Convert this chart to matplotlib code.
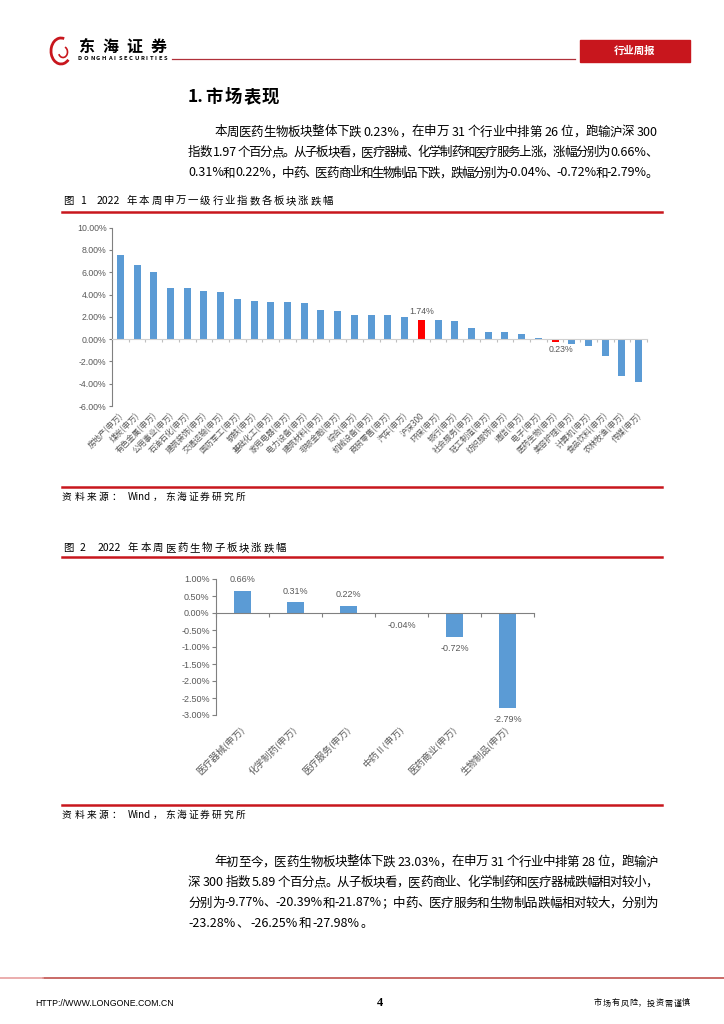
"""
东海证券 行业周报 第4页：市场表现（两张涨跌幅柱状图）
"""

import numpy as np
import matplotlib
matplotlib.use('Agg')
import matplotlib.pyplot as plt
from matplotlib.font_manager import FontProperties
from matplotlib.patches import Rectangle, Arc

CJK = ['Noto Sans CJK SC', 'DejaVu Sans']
LATIN = ['Liberation Sans', 'Noto Sans CJK SC']
plt.rcParams['font.family'] = CJK

# 图1 数据：申万一级行业本周涨跌幅(%)
industries = ['房地产(申万)', '煤炭(申万)', '有色金属(申万)', '公用事业(申万)', '石油石化(申万)',
              '建筑装饰(申万)', '交通运输(申万)', '国防军工(申万)', '钢铁(申万)', '基础化工(申万)',
              '家用电器(申万)', '电力设备(申万)', '建筑材料(申万)', '非银金融(申万)', '综合(申万)',
              '机械设备(申万)', '商贸零售(申万)', '汽车(申万)', '沪深300', '环保(申万)',
              '银行(申万)', '社会服务(申万)', '轻工制造(申万)', '纺织服饰(申万)', '通信(申万)',
              '电子(申万)', '医药生物(申万)', '美容护理(申万)', '计算机(申万)', '食品饮料(申万)',
              '农林牧渔(申万)', '传媒(申万)']
weekly_chg = [7.53, 6.64, 6.00, 4.60, 4.58, 4.30, 4.20, 3.58, 3.40, 3.35,
              3.32, 3.20, 2.60, 2.50, 2.20, 2.15, 2.15, 1.97, 1.74, 1.70,
              1.62, 0.98, 0.68, 0.67, 0.45, 0.08, -0.23, -0.45, -0.60, -1.50,
              -3.35, -3.83]
highlight = {'沪深300': '1.74%', '医药生物(申万)': '0.23%'}

# 图2 数据：医药生物子板块本周涨跌幅(%)
sub_sectors = ['医疗器械(申万)', '化学制药(申万)', '医疗服务(申万)', '中药Ⅱ(申万)',
               '医药商业(申万)', '生物制品(申万)']
sub_chg = [0.66, 0.31, 0.22, -0.04, -0.72, -2.79]

para1 = ['本周医药生物板块整体下跌 0.23%，在申万 31 个行业中排第 26 位，跑输沪深 300',
         '指数 1.97 个百分点。从子板块看，医疗器械、化学制药和医疗服务上涨，涨幅分别为 0.66%、',
         '0.31%和 0.22%，中药、医药商业和生物制品下跌，跌幅分别为-0.04%、-0.72%和-2.79%。']
para2 = ['年初至今，医药生物板块整体下跌 23.03%，在申万 31 个行业中排第 28 位，跑输沪',
         '深 300 指数 5.89 个百分点。从子板块看，医药商业、化学制药和医疗器械跌幅相对较小，',
         '分别为-9.77%、-20.39%和-21.87%；中药、医疗服务和生物制品跌幅相对较大，分别为',
         '-23.28%、-26.25%和-27.98%。']

W, H = 724, 1024
RED = '#C8161D'
BLUE = '#5B9BD5'
GRAY = '#595959'

fig = plt.figure(figsize=(W / 100, H / 100), dpi=100)
renderer = fig.canvas.get_renderer()


def tokenize(s):
    toks, buf = [], ''
    for ch in s:
        if ch == ' ':
            if buf:
                toks.append(buf)
                buf = ''
            toks.append(' ')
        elif ord(ch) < 128:
            buf += ch
        else:
            if buf:
                toks.append(buf)
                buf = ''
            toks.append(ch)
    if buf:
        toks.append(buf)
    return toks


def spaced(x0, y, s, size=9, x1=None, gap=1.0, weight='normal', color='black'):
    # 逐字排版，x1 给出时两端对齐
    fp = FontProperties(family=CJK, size=size, weight=weight)
    toks = tokenize(s)
    widths = []
    for t in toks:
        if t == ' ':
            widths.append(size * 100 / 72 * 0.25)
        else:
            widths.append(renderer.get_text_width_height_descent(t, fp, ismath=False)[0])
    if x1 is not None and len(toks) > 1:
        gap = (x1 - x0 - sum(widths)) / (len(toks) - 1)
    x = x0
    for t, w in zip(toks, widths):
        if t != ' ':
            fig.text(x / W, 1 - y / H, t, fontproperties=fp, color=color,
                     ha='left', va='center')
        x += w + gap


def hline(y, x0, x1, color=RED, lw=1.8):
    fig.add_artist(plt.Line2D([x0 / W, x1 / W], [1 - y / H, 1 - y / H],
                              color=color, lw=lw, transform=fig.transFigure))


# ---- 页眉 ----
fig.add_artist(Arc((61 / W, 1 - 51 / H), 20 / W, 26 / H, theta1=70, theta2=320,
                   color=RED, lw=2, transform=fig.transFigure))
fig.add_artist(Arc((63 / W, 1 - 52 / H), 9 / W, 11 / H, theta1=200, theta2=60,
                   color=RED, lw=1.2, transform=fig.transFigure))
spaced(78, 47, '东海证券', size=11.5, x1=167, weight='bold')
spaced(78, 59, 'D O N G H A I  S E C U R I T I E S', size=4.2, x1=167, weight='bold')
hline(59, 172, 575, color='#B0303A', lw=0.9)
fig.add_artist(Rectangle((580 / W, 1 - 62 / H), 110 / W, 22 / H, color=RED,
                         transform=fig.transFigure))
fig.text(635 / W, 1 - 51 / H, '行业周报', color='white', fontsize=7.5,
         fontweight='bold', ha='center', va='center')

# ---- 正文 ----
spaced(188, 97, '1.市场表现', size=12.5, weight='bold', gap=1.5)
for i, line in enumerate(para1):
    spaced(214 if i == 0 else 188, 132 + i * 20.5, line, size=9, x1=658)
for i, line in enumerate(para2):
    last = i == len(para2) - 1
    spaced(214 if i == 0 else 188, 862 + i * 20.5, line, size=9,
           x1=None if last else 658, gap=1.2)

# ---- 图1 ----
spaced(63, 201, '图 1', size=7.5, gap=2)
spaced(97, 201, '2022 年本周申万一级行业指数各板块涨跌幅', size=7.5, x1=333)
hline(212, 62, 662)
hline(487, 62, 662)
spaced(62, 497, '资料来源：', size=7, gap=2.5)
spaced(128, 497, 'Wind，东海证券研究所', size=7, gap=2)

ax1 = fig.add_axes([112 / W, 1 - 406 / H, 535 / W, (406 - 227.7) / H])
n = len(industries)
x = np.arange(n)
colors = ['#FF0000' if c in highlight else BLUE for c in industries]
ax1.bar(x, weekly_chg, width=0.42, color=colors)
ax1.set_xlim(-0.5, n - 0.5)
ax1.set_ylim(-6, 10)
yt = np.arange(-6, 10.1, 2)
ax1.set_yticks(yt)
ax1.set_yticklabels([f'{v:.2f}%' for v in yt], family=LATIN)
ax1.set_xticks(np.arange(-0.5, n, 1))
ax1.set_xticklabels([])
ax1.spines[['top', 'right']].set_visible(False)
ax1.spines['bottom'].set_position(('data', 0))
ax1.spines['bottom'].set_color('#d0d0d0')
ax1.spines['left'].set_color('#808080')
ax1.spines['left'].set_linewidth(0.8)
ax1.tick_params(axis='x', length=2.5, color='#bfbfbf', width=0.8)
ax1.tick_params(axis='y', length=2.5, color='#808080', labelsize=6.3,
                labelcolor=GRAY, pad=1.5, width=0.8)
for i, name in enumerate(industries):
    ax1.annotate(name, xy=(i, -6), xytext=(1, -6), textcoords='offset points',
                 rotation=45, rotation_mode='anchor', ha='right', va='center',
                 fontsize=5.8, color=GRAY, annotation_clip=False)
    if name in highlight:
        v = weekly_chg[i]
        ax1.annotate(highlight[name], xy=(i, v), xytext=(4 if v < 0 else 0, 2.5 if v > 0 else -2.5),
                     textcoords='offset points', ha='center',
                     va='bottom' if v > 0 else 'top', fontsize=6.3,
                     color=GRAY, family=LATIN)

# ---- 图2 ----
spaced(63, 548, '图 2', size=7.5, gap=2)
spaced(98, 548, '2022 年本周医药生物子板块涨跌幅', size=7.5, x1=286)
hline(557, 62, 662)
hline(805, 62, 662)
spaced(62, 815, '资料来源：', size=7, gap=2.5)
spaced(128, 815, 'Wind，东海证券研究所', size=7, gap=2)

ax2 = fig.add_axes([216 / W, 1 - 715 / H, 318 / W, 136 / H])
m = len(sub_sectors)
x2 = np.arange(m)
ax2.bar(x2, sub_chg, width=0.31, color=BLUE)
ax2.set_xlim(-0.5, m - 0.5)
ax2.set_ylim(-3, 1)
yt2 = np.arange(-3, 1.01, 0.5)
ax2.set_yticks(yt2)
ax2.set_yticklabels([f'{v:.2f}%' for v in yt2], family=LATIN)
ax2.set_xticks(np.arange(-0.5, m, 1))
ax2.set_xticklabels([])
ax2.spines[['top', 'right']].set_visible(False)
ax2.spines['bottom'].set_position(('data', 0))
ax2.spines['bottom'].set_color('#808080')
ax2.spines['bottom'].set_linewidth(0.8)
ax2.spines['left'].set_color('#808080')
ax2.spines['left'].set_linewidth(0.8)
ax2.tick_params(axis='x', length=3, color='#808080', width=0.8)
ax2.tick_params(axis='y', length=3, color='#808080', labelsize=6.5,
                labelcolor=GRAY, pad=1.5, width=0.8)
for i, name in enumerate(sub_sectors):
    ax2.annotate(name, xy=(i, -3), xytext=(0, -9), textcoords='offset points',
                 rotation=45, rotation_mode='anchor', ha='right', va='center',
                 fontsize=6.8, color=GRAY, annotation_clip=False)
    v = sub_chg[i]
    ax2.annotate(f'{v:.2f}%', xy=(i, v), xytext=(0, 5 if v > 0 else -5),
                 textcoords='offset points', ha='center',
                 va='bottom' if v > 0 else 'top', fontsize=6.5,
                 color=GRAY, family=LATIN)

# ---- 页脚 ----
hline(978, 43, 724, color='#C0504D', lw=1.2)
hline(978, 0, 43, color='#E8A0A0', lw=1.2)
fig.text(35 / W, 1 - 1003 / H, 'HTTP://WWW.LONGONE.COM.CN', fontsize=6.3,
         family=LATIN, ha='left', va='center')
fig.text(380 / W, 1 - 1003 / H, '4', fontsize=9, fontweight='bold',
         family=['Liberation Serif'], ha='center', va='center')
spaced(594, 1003, '市场有风险，投资需谨慎', size=5.8, x1=690)

fig.savefig('out.png', dpi=100)
